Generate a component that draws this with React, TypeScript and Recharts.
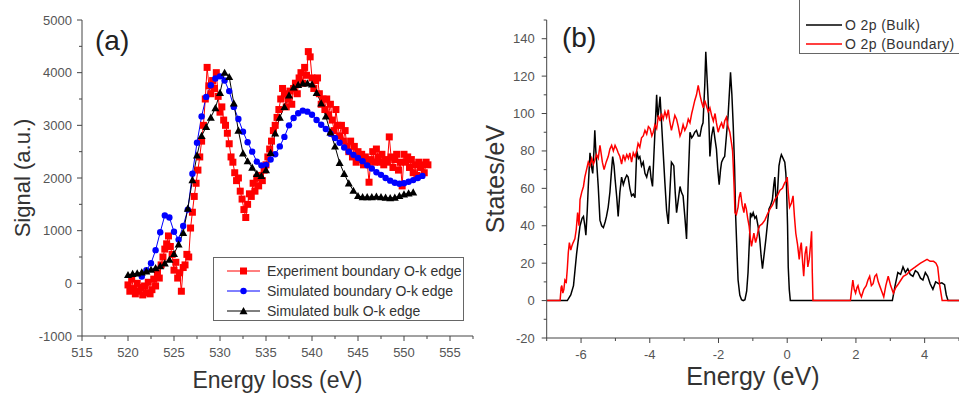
import React from "react";
import { Line, LineChart, XAxis, YAxis } from "recharts";

// ---- panel (a): O-K edge EELS ----
const expBoundary: [number, number][] = [
  [520.0, -30], [520.2, -150], [520.4, 80], [520.6, -100], [520.8, -200], [521.0, 0],
  [521.2, -150], [521.4, -80], [521.6, -220], [521.8, -50], [522.0, -180], [522.2, 20],
  [522.4, -200], [522.6, -120], [522.8, 80], [523.0, -50], [523.2, 200], [523.4, 100],
  [523.6, 350], [523.8, 500], [524.0, 650], [524.2, 750], [524.4, 900], [524.6, 700],
  [524.8, 550], [525.0, 250], [525.2, 400], [525.4, 100], [525.6, 200], [525.8, -150],
  [526.0, 300], [526.2, 350], [526.4, 550], [526.6, 500], [526.8, 1050], [527.0, 1350],
  [527.2, 1650], [527.4, 1900], [527.6, 2150], [527.8, 2400], [528.0, 2700], [528.2, 3000],
  [528.4, 3500], [528.6, 4100], [528.8, 3750], [529.0, 3600], [529.2, 3850], [529.4, 3700],
  [529.6, 4000], [529.8, 3550], [530.0, 3250], [530.2, 3350], [530.4, 3100], [530.6, 3000],
  [530.8, 2850], [531.0, 2650], [531.2, 2400], [531.4, 2300], [531.6, 2100], [531.8, 1950],
  [532.0, 2000], [532.2, 1750], [532.4, 1600], [532.6, 1400], [532.8, 1250], [533.0, 1500],
  [533.2, 1700], [533.4, 1650], [533.6, 1900], [533.8, 1750], [534.0, 2000], [534.2, 1850],
  [534.4, 2050], [534.6, 1950], [534.8, 2150], [535.0, 2250], [535.2, 2400], [535.4, 2550],
  [535.6, 2700], [535.8, 2900], [536.0, 3000], [536.2, 3150], [536.4, 3300], [536.6, 3500],
  [536.8, 3700], [537.0, 3600], [537.2, 3350], [537.4, 3500], [537.6, 3650], [537.8, 3400],
  [538.0, 3700], [538.2, 3800], [538.4, 3600], [538.6, 3900], [538.8, 4000], [539.0, 3800],
  [539.2, 4100], [539.4, 3950], [539.6, 4400], [539.8, 4300], [540.0, 3900], [540.2, 3700],
  [540.4, 3850], [540.6, 3900], [540.8, 3600], [541.0, 3400], [541.2, 3500], [541.4, 3300],
  [541.6, 3500], [541.8, 3200], [542.0, 3400], [542.2, 3100], [542.4, 2900], [542.6, 3300],
  [542.8, 3000], [543.0, 2800], [543.2, 3000], [543.4, 2700], [543.6, 2900], [543.8, 2600],
  [544.0, 2500], [544.2, 2700], [544.4, 2400], [544.6, 2600], [544.8, 2300], [545.0, 2500],
  [545.2, 2350], [545.4, 2450], [545.6, 2250], [545.8, 2400], [546.0, 2300], [546.2, 1920],
  [546.4, 2350], [546.6, 2500], [546.8, 2300], [547.0, 2550], [547.2, 2400], [547.4, 2300],
  [547.6, 2450], [547.8, 2250], [548.0, 2350], [548.2, 2300], [548.4, 2780], [548.6, 2400],
  [548.8, 2200], [549.0, 2350], [549.2, 2450], [549.4, 2150], [549.6, 2300], [549.8, 1850],
  [550.0, 2450], [550.2, 2300], [550.4, 2400], [550.6, 2200], [550.8, 2350], [551.0, 2100],
  [551.2, 2250], [551.4, 2050], [551.6, 2300], [551.8, 2200], [552.0, 2250], [552.2, 2100],
  [552.4, 2300], [552.6, 2250],
];

const simBoundary: [number, number][] = [
  [521.5, 130], [522.0, 250], [522.5, 380], [523.0, 630], [523.5, 970], [524.0, 1290],
  [524.5, 1250], [525.0, 980], [525.5, 830], [526.0, 1090], [526.5, 1400], [527.0, 2080],
  [527.5, 2670], [528.0, 3170], [528.5, 3540], [529.0, 3760], [529.5, 3890], [530.0, 3930],
  [530.5, 3850], [531.0, 3650], [531.5, 3350], [532.0, 3120], [532.5, 2880], [533.0, 2680],
  [533.5, 2500], [534.0, 2310], [534.5, 2240], [535.0, 2250], [535.5, 2350], [536.0, 2450],
  [536.5, 2600], [537.0, 2780], [537.5, 3000], [538.0, 3140], [538.5, 3230], [539.0, 3280],
  [539.5, 3260], [540.0, 3200], [540.5, 3100], [541.0, 3010], [541.5, 2930], [542.0, 2840],
  [542.5, 2760], [543.0, 2670], [543.5, 2580], [544.0, 2500], [544.5, 2440], [545.0, 2380],
  [545.5, 2320], [546.0, 2240], [546.5, 2180], [547.0, 2110], [547.5, 2060], [548.0, 2000],
  [548.5, 1950], [549.0, 1910], [549.5, 1890], [550.0, 1900], [550.5, 1930], [551.0, 1960],
  [551.5, 2000], [552.0, 2040],
];

const simBulk: [number, number][] = [
  [520.0, 160], [520.5, 180], [521.0, 190], [521.5, 210], [522.0, 230], [522.5, 260],
  [523.0, 290], [523.5, 330], [524.0, 380], [524.5, 450], [525.0, 560], [525.5, 740],
  [526.0, 960], [526.5, 1420], [527.0, 1960], [527.5, 2430], [528.0, 2800], [528.5, 2970],
  [529.0, 3150], [529.5, 3330], [530.0, 3620], [530.5, 4000], [531.0, 3920], [531.5, 3420],
  [532.0, 2900], [532.5, 2470], [533.0, 2320], [533.5, 2200], [534.0, 2080], [534.5, 2040],
  [535.0, 2150], [535.5, 2480], [536.0, 2850], [536.5, 3150], [537.0, 3350], [537.5, 3570],
  [538.0, 3720], [538.5, 3770], [539.0, 3800], [539.5, 3800], [540.0, 3780], [540.5, 3620],
  [541.0, 3420], [541.5, 3170], [542.0, 2870], [542.5, 2600], [543.0, 2290], [543.5, 2080],
  [544.0, 1900], [544.5, 1760], [545.0, 1660], [545.5, 1640], [546.0, 1640], [546.5, 1640],
  [547.0, 1650], [547.5, 1640], [548.0, 1630], [548.5, 1620], [549.0, 1630], [549.5, 1660],
  [550.0, 1690], [550.5, 1710], [551.0, 1730],
];

const lossTicks = [515, 517.5, 520, 522.5, 525, 527.5, 530, 532.5, 535, 537.5, 540, 542.5, 545, 547.5, 550, 552.5, 555, 557.5];
const signalTicks = [-1000, -500, 0, 500, 1000, 1500, 2000, 2500, 3000, 3500, 4000, 4500, 5000];

// ---- panel (b): O 2p DOS ----
const dosBulk: [number, number][] = [
  [-7, 0], [-6.4, 0], [-6.3, 3], [-6.22, 8], [-6.13, 25], [-6.03, 40], [-5.97, 44], [-5.93, 45],
  [-5.89, 40], [-5.86, 35], [-5.82, 48], [-5.79, 61], [-5.74, 79], [-5.7, 72], [-5.66, 68],
  [-5.62, 82], [-5.6, 91], [-5.57, 80], [-5.55, 75], [-5.5, 61], [-5.45, 43], [-5.4, 40],
  [-5.35, 39], [-5.3, 42], [-5.26, 45], [-5.21, 50], [-5.16, 58], [-5.12, 68], [-5.08, 77],
  [-5.04, 72], [-5.01, 65], [-4.96, 55], [-4.92, 45], [-4.87, 58], [-4.82, 66], [-4.77, 62],
  [-4.72, 65], [-4.67, 67], [-4.63, 66], [-4.58, 60], [-4.53, 56], [-4.48, 57], [-4.43, 55],
  [-4.38, 80], [-4.33, 76], [-4.29, 77], [-4.24, 72], [-4.19, 74], [-4.14, 68], [-4.09, 66],
  [-4.04, 70], [-4.0, 72], [-3.96, 65], [-3.92, 61], [-3.88, 78], [-3.85, 90], [-3.8, 110],
  [-3.77, 98], [-3.75, 100], [-3.7, 109], [-3.66, 96], [-3.63, 86], [-3.56, 63], [-3.51, 48],
  [-3.46, 41], [-3.41, 60], [-3.37, 74], [-3.33, 73], [-3.3, 72], [-3.26, 58], [-3.22, 47],
  [-3.17, 54], [-3.12, 61], [-3.08, 58], [-3.03, 56], [-2.98, 45], [-2.93, 33], [-2.88, 65],
  [-2.83, 90], [-2.78, 87], [-2.74, 88], [-2.69, 90], [-2.64, 91], [-2.59, 88], [-2.54, 88],
  [-2.49, 93], [-2.45, 95], [-2.4, 115], [-2.37, 133], [-2.33, 118], [-2.3, 107], [-2.27, 90],
  [-2.25, 77], [-2.2, 88], [-2.15, 93], [-2.1, 86], [-2.06, 81], [-2.02, 70], [-1.98, 62],
  [-1.94, 70], [-1.91, 74], [-1.86, 76], [-1.82, 77], [-1.77, 88], [-1.72, 99], [-1.68, 112],
  [-1.65, 122], [-1.61, 110], [-1.57, 93], [-1.53, 70], [-1.5, 45], [-1.46, 25], [-1.43, 11],
  [-1.38, 3], [-1.33, 0.5], [-1.28, 0], [-1.23, 0.5], [-1.18, 5], [-1.14, 15], [-1.1, 32],
  [-1.07, 47], [-1.03, 45], [-0.99, 47], [-0.94, 44], [-0.9, 45], [-0.85, 40], [-0.8, 33],
  [-0.76, 24], [-0.72, 17], [-0.67, 25], [-0.62, 33], [-0.57, 42], [-0.53, 49], [-0.48, 51],
  [-0.43, 54], [-0.39, 62], [-0.36, 66], [-0.33, 55], [-0.31, 49], [-0.27, 62], [-0.24, 72],
  [-0.2, 76], [-0.17, 78], [-0.12, 76], [-0.07, 74], [-0.04, 68], [-0.02, 61], [0.01, 40],
  [0.03, 18], [0.06, 6], [0.09, 0], [3.06, 0], [3.14, 8], [3.22, 15], [3.3, 14], [3.37, 18],
  [3.44, 15], [3.51, 17], [3.58, 14], [3.66, 13], [3.73, 16], [3.8, 15], [3.88, 12], [3.95, 11],
  [4.02, 15], [4.09, 13], [4.16, 9], [4.24, 6], [4.32, 10], [4.41, 9], [4.5, 9.5], [4.58, 8.5],
  [4.63, 3], [4.68, 0], [5, 0],
];

const dosBoundary: [number, number][] = [
  [-7, 0], [-6.61, 0], [-6.58, 7], [-6.56, 8], [-6.53, 4], [-6.5, 6], [-6.47, 11], [-6.43, 10],
  [-6.4, 17], [-6.37, 26], [-6.34, 31], [-6.3, 27], [-6.27, 29], [-6.23, 31], [-6.18, 33],
  [-6.14, 38], [-6.1, 47], [-6.06, 40], [-6.03, 54], [-5.98, 58], [-5.93, 61], [-5.89, 66],
  [-5.84, 70], [-5.79, 74], [-5.74, 72], [-5.69, 76], [-5.64, 73], [-5.6, 75], [-5.55, 78],
  [-5.5, 76], [-5.45, 83], [-5.41, 78], [-5.38, 74], [-5.33, 70], [-5.27, 74], [-5.21, 77],
  [-5.16, 81], [-5.11, 83], [-5.06, 80], [-5.01, 83], [-4.96, 81], [-4.92, 79], [-4.87, 77],
  [-4.82, 73], [-4.77, 78], [-4.72, 75], [-4.67, 78], [-4.62, 76], [-4.58, 79], [-4.53, 74],
  [-4.48, 79], [-4.43, 77], [-4.38, 80], [-4.34, 84], [-4.29, 82], [-4.24, 87], [-4.19, 88],
  [-4.14, 91], [-4.09, 89], [-4.04, 93], [-3.99, 92], [-3.94, 88], [-3.9, 90], [-3.85, 94],
  [-3.8, 92], [-3.75, 99], [-3.7, 96], [-3.66, 100], [-3.61, 97], [-3.56, 101], [-3.51, 98],
  [-3.46, 102], [-3.42, 96], [-3.37, 91], [-3.32, 95], [-3.27, 99], [-3.22, 97], [-3.17, 93],
  [-3.12, 88], [-3.08, 90], [-3.03, 94], [-2.98, 91], [-2.93, 93], [-2.88, 97], [-2.83, 95],
  [-2.78, 100], [-2.74, 103], [-2.69, 107], [-2.64, 110], [-2.59, 115], [-2.54, 110],
  [-2.49, 106], [-2.44, 103], [-2.4, 107], [-2.35, 104], [-2.3, 101], [-2.25, 103], [-2.2, 99],
  [-2.15, 96], [-2.1, 100], [-2.06, 95], [-2.01, 90], [-1.96, 93], [-1.91, 95], [-1.86, 92],
  [-1.82, 96], [-1.77, 98], [-1.72, 93], [-1.67, 90], [-1.62, 84], [-1.59, 80], [-1.57, 72],
  [-1.54, 58], [-1.52, 47], [-1.48, 46], [-1.43, 50], [-1.4, 55], [-1.36, 58], [-1.31, 51],
  [-1.26, 47], [-1.23, 52], [-1.19, 49], [-1.15, 44], [-1.11, 40], [-1.07, 33], [-1.04, 29],
  [-1.0, 33], [-0.97, 36], [-0.92, 31], [-0.88, 34], [-0.84, 38], [-0.8, 40], [-0.73, 41],
  [-0.65, 43], [-0.58, 46], [-0.5, 49], [-0.43, 51], [-0.36, 54], [-0.29, 56], [-0.21, 59],
  [-0.14, 60], [-0.07, 63], [-0.03, 64], [0, 66], [0.03, 58], [0.07, 50], [0.12, 52], [0.17, 56],
  [0.21, 45], [0.25, 36], [0.3, 30], [0.35, 22], [0.38, 28], [0.41, 31], [0.45, 20], [0.48, 13],
  [0.52, 25], [0.56, 29], [0.6, 18], [0.64, 22], [0.68, 30], [0.71, 37], [0.73, 15], [0.75, 0],
  [1.84, 0], [1.87, 5], [1.91, 11], [1.95, 6], [1.99, 4], [2.03, 7], [2.06, 8], [2.11, 4],
  [2.16, 2], [2.23, 6], [2.3, 8], [2.35, 11], [2.4, 13], [2.45, 8], [2.5, 9], [2.55, 13],
  [2.6, 14], [2.65, 10], [2.69, 8], [2.75, 5], [2.81, 2], [2.87, 8], [2.94, 13], [3.01, 8],
  [3.09, 4], [3.16, 7], [3.24, 9], [3.31, 11], [3.38, 13], [3.48, 14], [3.58, 16], [3.65, 17],
  [3.73, 18], [3.8, 19], [3.88, 20], [3.97, 21], [4.07, 22], [4.16, 21], [4.26, 21], [4.33, 20],
  [4.38, 18], [4.44, 8], [4.51, 0], [5, 0],
];

const energyTicks = [-7, -6, -5, -4, -3, -2, -1, 0, 1, 2, 3, 4, 5];
const statesTicks = [-20, -10, 0, 10, 20, 30, 40, 50, 60, 70, 80, 90, 100, 110, 120, 130, 140, 150];

const toRows = (pts: [number, number][]) => pts.map(([x, y]) => ({ x, y }));

const AXIS = "#444";
const TICK_TEXT = "#555";
const TITLE = "#333";
const FONT = "'Liberation Sans', Arial, sans-serif";

const isMultiple = (v: number, step: number) => Math.abs(v / step - Math.round(v / step)) < 1e-6;

function xTick(step: number, labelDy: number) {
  return (props: any) => {
    const { x, y, payload } = props;
    const major = isMultiple(payload.value, step);
    return (
      <g>
        <line x1={x} x2={x} y1={y} y2={y + (major ? 5 : 3)} stroke={AXIS} />
        {major && (
          <text x={x} y={y + labelDy} textAnchor="middle" fontSize={13} fill={TICK_TEXT} fontFamily={FONT}>
            {payload.value}
          </text>
        )}
      </g>
    );
  };
}

function yTick(step: number, gap: number) {
  return (props: any) => {
    const { x, y, payload } = props;
    const major = isMultiple(payload.value, step);
    return (
      <g>
        <line x1={x - (major ? 5 : 3)} x2={x} y1={y} y2={y} stroke={AXIS} />
        {major && (
          <text x={x - gap} y={y + 4.5} textAnchor="end" fontSize={13} fill={TICK_TEXT} fontFamily={FONT}>
            {payload.value}
          </text>
        )}
      </g>
    );
  };
}

const square = (color: string) => (p: any) =>
  <rect key={`s${p.index}`} x={p.cx - 3.5} y={p.cy - 3.5} width={7} height={7} fill={color} />;
const circle = (color: string) => (p: any) =>
  <circle key={`c${p.index}`} cx={p.cx} cy={p.cy} r={3.2} fill={color} />;
const triangle = (color: string) => (p: any) =>
  <polygon key={`t${p.index}`} points={`${p.cx},${p.cy - 4} ${p.cx - 4},${p.cy + 3.2} ${p.cx + 4},${p.cy + 3.2}`} fill={color} />;

function PanelA() {
  return (
    <LineChart width={480} height={393} margin={{ top: 20, right: 7, bottom: 0, left: 0 }}>
      <XAxis
        type="number"
        dataKey="x"
        domain={[515, 557.5]}
        ticks={lossTicks}
        interval={0}
        allowDataOverflow
        tickLine={false}
        tickSize={0}
        tickMargin={0}
        tick={xTick(5, 21)}
        stroke={AXIS}
        height={57}
        label={{ value: "Energy loss (eV)", position: "insideBottom", offset: 5, fontSize: 23, fill: TITLE, fontFamily: FONT }}
      />
      <YAxis
        type="number"
        dataKey="y"
        domain={[-1000, 5000]}
        ticks={signalTicks}
        interval={0}
        allowDataOverflow
        tickLine={false}
        tickSize={0}
        tickMargin={0}
        tick={yTick(1000, 10)}
        stroke={AXIS}
        width={82}
        label={{ value: "Signal (a.u.)", angle: -90, position: "insideLeft", offset: 22, fontSize: 22, fill: TITLE, fontFamily: FONT, style: { textAnchor: "middle" } }}
      />
      <Line data={toRows(expBoundary)} dataKey="y" type="linear" stroke="#ff0000" strokeWidth={1} dot={square("#ff0000")} isAnimationActive={false} />
      <Line data={toRows(simBoundary)} dataKey="y" type="linear" stroke="#0000ff" strokeWidth={1} dot={circle("#0000ff")} isAnimationActive={false} />
      <Line data={toRows(simBulk)} dataKey="y" type="linear" stroke="#000000" strokeWidth={1} dot={triangle("#000000")} isAnimationActive={false} />
    </LineChart>
  );
}

function PanelB() {
  return (
    <LineChart width={479} height={393} margin={{ top: 20, right: 0, bottom: 0, left: 0 }}>
      <XAxis
        type="number"
        dataKey="x"
        domain={[-7, 5]}
        ticks={energyTicks}
        interval={0}
        allowDataOverflow
        tickLine={false}
        tickSize={0}
        tickMargin={0}
        tick={xTick(2, 21)}
        stroke={AXIS}
        height={55}
        label={{ value: "Energy (eV)", position: "insideBottom", offset: 8, fontSize: 25, fill: TITLE, fontFamily: FONT }}
      />
      <YAxis
        type="number"
        dataKey="y"
        domain={[-20, 150]}
        ticks={statesTicks}
        interval={0}
        allowDataOverflow
        tickLine={false}
        tickSize={0}
        tickMargin={0}
        tick={yTick(20, 12)}
        stroke={AXIS}
        width={66.7}
        label={{ value: "States/eV", angle: -90, position: "insideLeft", offset: 15, fontSize: 25, fill: TITLE, fontFamily: FONT, style: { textAnchor: "middle" } }}
      />
      <Line data={toRows(dosBulk)} dataKey="y" type="linear" stroke="#000000" strokeWidth={1.5} dot={false} isAnimationActive={false} />
      <Line data={toRows(dosBoundary)} dataKey="y" type="linear" stroke="#ff0000" strokeWidth={1.5} dot={false} isAnimationActive={false} />
    </LineChart>
  );
}

function Overlay() {
  const txt = { fontFamily: FONT, fill: TITLE } as const;
  return (
    <svg width={959} height={393} style={{ position: "absolute", left: 0, top: 0, pointerEvents: "none" }}>
      <text x={95} y={50} fontSize={28} {...txt} fill="#222">(a)</text>
      <text x={562} y={47} fontSize={28} {...txt} fill="#222">(b)</text>

      {/* legend (a) */}
      <rect x={213.5} y={257.5} width={250} height={63} fill="#fff" stroke="#666" />
      <line x1={227} x2={260} y1={271} y2={271} stroke="#ff0000" />
      <rect x={240} y={267.5} width={7} height={7} fill="#ff0000" />
      <text x={267} y={276} fontSize={14} {...txt}>Experiment boundary O-k edge</text>
      <line x1={227} x2={260} y1={291} y2={291} stroke="#0000ff" />
      <circle cx={243.5} cy={291} r={3.2} fill="#0000ff" />
      <text x={267} y={296} fontSize={14} {...txt}>Simulated boundary O-k edge</text>
      <line x1={227} x2={260} y1={311} y2={311} stroke="#000" />
      <polygon points="243.5,307 239.5,314.2 247.5,314.2" fill="#000" />
      <text x={267} y={316} fontSize={14} {...txt}>Simulated bulk O-k edge</text>

      {/* legend (b) */}
      <rect x={799.5} y={-2} width={170} height={55.5} fill="#fff" stroke="#666" />
      <line x1={806} x2={842} y1={25} y2={25} stroke="#000" strokeWidth={1.5} />
      <text x={845} y={30} fontSize={14} letterSpacing={0.4} {...txt}>O 2p (Bulk)</text>
      <line x1={806} x2={842} y1={44} y2={44} stroke="#ff0000" strokeWidth={1.5} />
      <text x={845} y={49} fontSize={14} letterSpacing={0.4} {...txt}>O 2p (Boundary)</text>
    </svg>
  );
}

export default function App() {
  return (
    <div style={{ position: "absolute", left: 0, top: 0, width: 959, height: 393, background: "#fff", overflow: "hidden" }}>
      <div style={{ position: "absolute", left: 0, top: 0 }}>
        <PanelA />
      </div>
      <div style={{ position: "absolute", left: 480, top: 0 }}>
        <PanelB />
      </div>
      <Overlay />
    </div>
  );
}
